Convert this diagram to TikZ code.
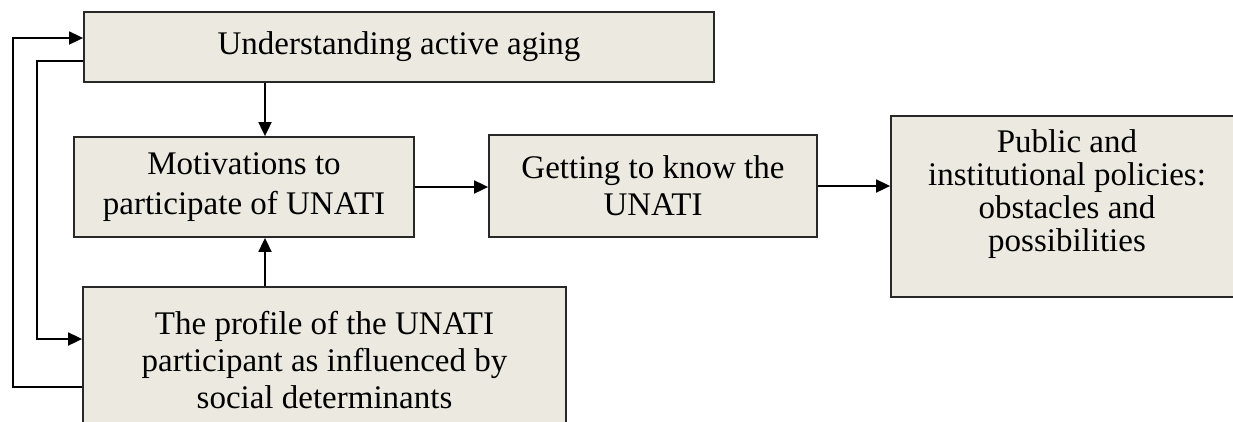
\documentclass[tikz,border=0pt]{standalone}
\usepackage{fontspec}
\setmainfont{Liberation Serif}
\usetikzlibrary{arrows.meta}
\definecolor{boxfill}{RGB}{236,234,224}
\definecolor{boxline}{RGB}{40,40,40}

\begin{document}
\begin{tikzpicture}[x=1pt, y=-1pt,
    box/.style={draw=boxline, line width=1.8pt, fill=boxfill, inner sep=0pt,
                align=center, font=\fontsize{33}{37}\selectfont},
    arr/.style={line width=1.8pt, -{Triangle[length=14pt, width=13pt]}}]

    % --- Frame: same size as the figure ---
    \useasboundingbox (0,0) rectangle (1233,421);
    \clip (0,0) rectangle (1233,421);

    % --- The five boxes ---
    \node[box, minimum width=630, minimum height=70] (aging) at (399,47)
        {Understanding active aging};
    \node[box, minimum width=340, minimum height=100,
          font=\fontsize{33}{40}\selectfont] (motiv) at (244,187)
        {Motivations to\\participate of UNATI};
    \node[box, minimum width=328, minimum height=102] (know) at (653,186)
        {Getting to know the\\UNATI};
    \node[box, minimum width=400, minimum height=181] (pol) at (1091,206.5) {};
    \node[align=center, inner sep=0pt, font=\fontsize{33}{33}\selectfont]
        (poltxt) at (1067,194.5)
        {Public and\\institutional policies:\\obstacles and\\possibilities};
    \node[box, minimum width=483, minimum height=146] (profile) at (324.5,360)
        {The profile of the UNATI\\participant as influenced by\\social determinants};

    % --- Straight arrows ---
    \coordinate (vx) at (265,0);
    \draw[arr] (aging.south -| vx) -- (motiv.north -| vx);
    \draw[arr] (profile.north -| vx) -- (motiv.south -| vx);
    \draw[arr] (motiv.east) -- (motiv.east -| know.west);
    \draw[arr] (know.east) -- (know.east -| pol.west);

    % --- Feedback loops on the left ---
    \coordinate (outT) at (13,38);
    \coordinate (outB) at (13,387);
    \coordinate (inT) at (37,61);
    \coordinate (inB) at (37,339);
    \draw[arr] (outB -| profile.west) -- (outB) -- (outT) -- (outT -| aging.west);
    \draw[arr] (inT -| aging.west) -- (inT) -- (inB) -- (inB -| profile.west);

\end{tikzpicture}
\end{document}
